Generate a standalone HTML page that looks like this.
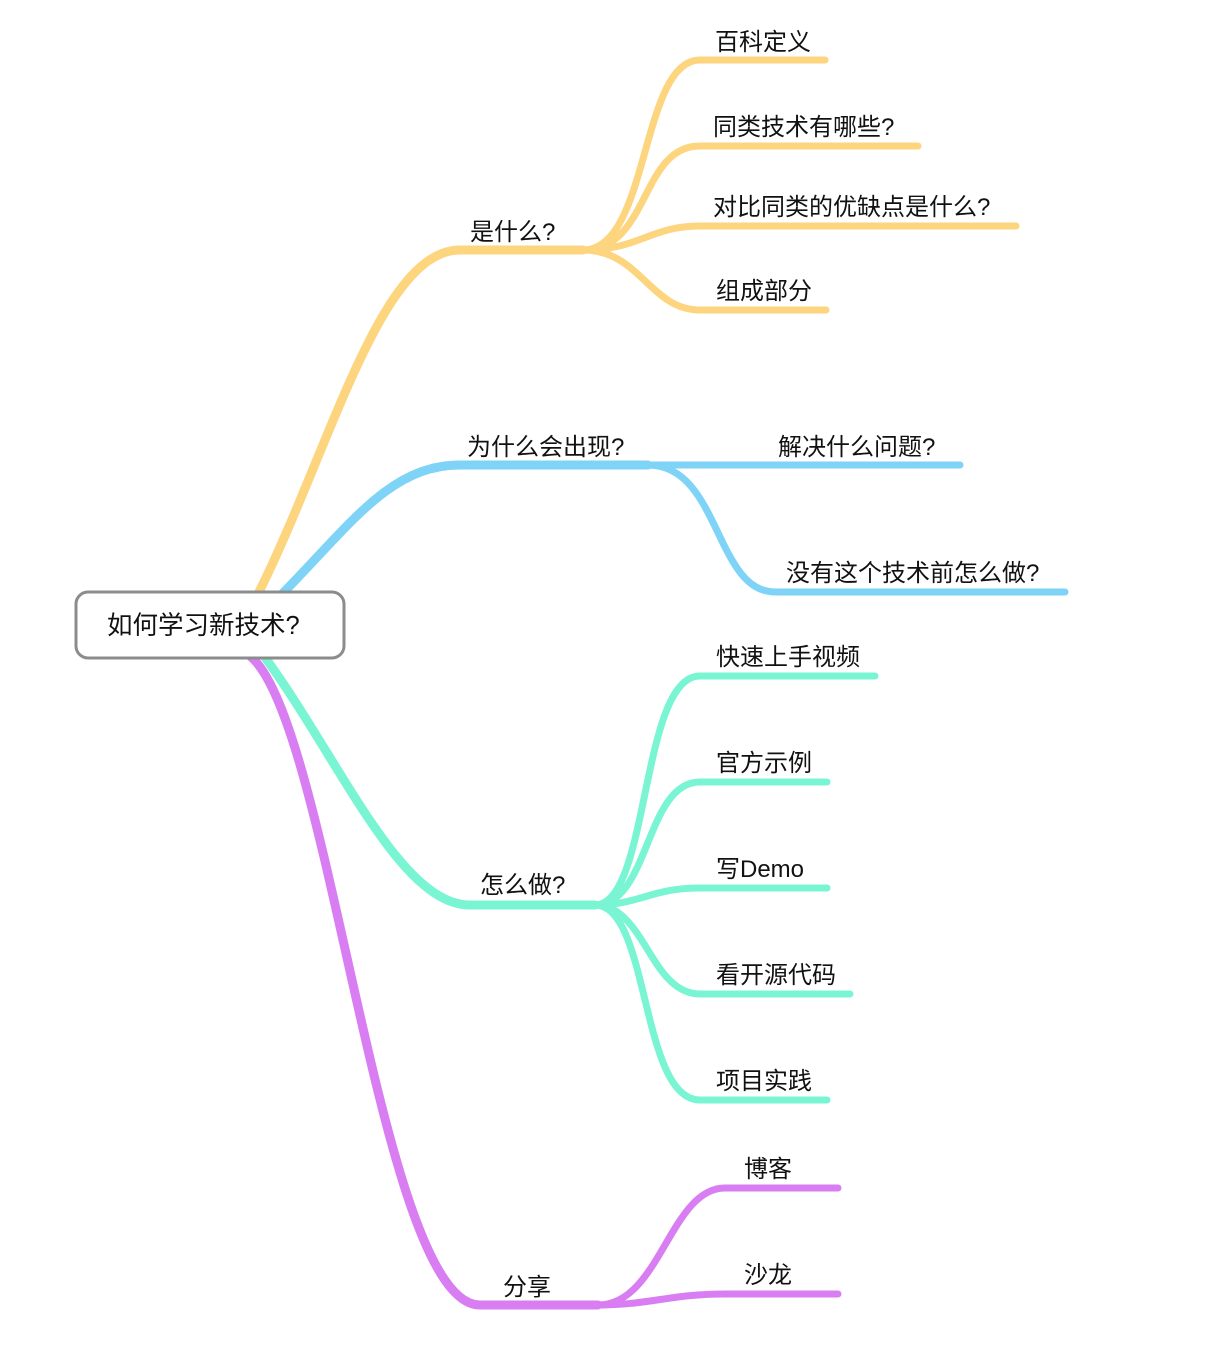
<!DOCTYPE html>
<html><head><meta charset="utf-8"><style>
html,body{margin:0;padding:0;background:#fff;}
svg text{font-family:"Liberation Sans","Noto Sans CJK SC",sans-serif;font-size:24px;fill:#111;}
</style></head><body>
<svg width="1232" height="1342" viewBox="0 0 1232 1342" xmlns="http://www.w3.org/2000/svg">
<g fill="none" stroke-linecap="round">
<g stroke="#FDD57E">
<path d="M258,594 C 330,450 380,250 460,250 L583,250" stroke-width="9"/>
<path d="M583,250 C 650,250 640,60 700,60 L825,60" stroke-width="7"/>
<path d="M583,250 C 650,250 640,146 700,146 L918,146" stroke-width="7"/>
<path d="M583,250 C 640,250 650,226 700,226 L1016,226" stroke-width="7"/>
<path d="M583,250 C 640,250 650,310 700,310 L826,310" stroke-width="7"/>
</g>
<g stroke="#7ED3F7">
<path d="M282,594 C 350,525 390,465 460,465 L648,465" stroke-width="9"/>
<path d="M648,465 L960,465" stroke-width="7"/>
<path d="M648,465 C 720,465 715,592 775,592 L1065,592" stroke-width="7"/>
</g>
<g stroke="#79F5D3">
<path d="M264,656 C 340,760 400,905 470,905 L595,905" stroke-width="9"/>
<path d="M595,905 C 650,905 640,676 700,676 L875,676" stroke-width="7"/>
<path d="M595,905 C 650,905 645,782 700,782 L827,782" stroke-width="7"/>
<path d="M595,905 C 640,905 650,888 700,888 L827,888" stroke-width="7"/>
<path d="M595,905 C 645,905 650,994 700,994 L850,994" stroke-width="7"/>
<path d="M595,905 C 650,905 640,1100 700,1100 L827,1100" stroke-width="7"/>
</g>
<g stroke="#D97EF2">
<path d="M250,656 C 330,720 380,1305 480,1305 L598,1305" stroke-width="9"/>
<path d="M598,1305 C 660,1305 670,1188 725,1188 L838,1188" stroke-width="7"/>
<path d="M598,1305 C 650,1305 670,1294 725,1294 L838,1294" stroke-width="7"/>
</g>
</g>
<rect x="76" y="592" width="268" height="66" rx="12" fill="#fff" stroke="#8c8c8c" stroke-width="3"/>
<text x="107" y="634" style="font-size:25.5px">如何学习新技术?</text>
<text x="470" y="240">是什么?</text>
<text x="715" y="50">百科定义</text>
<text x="713" y="135">同类技术有哪些?</text>
<text x="713" y="215">对比同类的优缺点是什么?</text>
<text x="716" y="299">组成部分</text>
<text x="467" y="455">为什么会出现?</text>
<text x="778" y="455">解决什么问题?</text>
<text x="786" y="581">没有这个技术前怎么做?</text>
<text x="480" y="893">怎么做?</text>
<text x="716" y="665">快速上手视频</text>
<text x="716" y="771">官方示例</text>
<text x="716" y="877">写Demo</text>
<text x="716" y="983">看开源代码</text>
<text x="716" y="1089">项目实践</text>
<text x="503" y="1295">分享</text>
<text x="744" y="1177">博客</text>
<text x="744" y="1283">沙龙</text>
</svg>
</body></html>
